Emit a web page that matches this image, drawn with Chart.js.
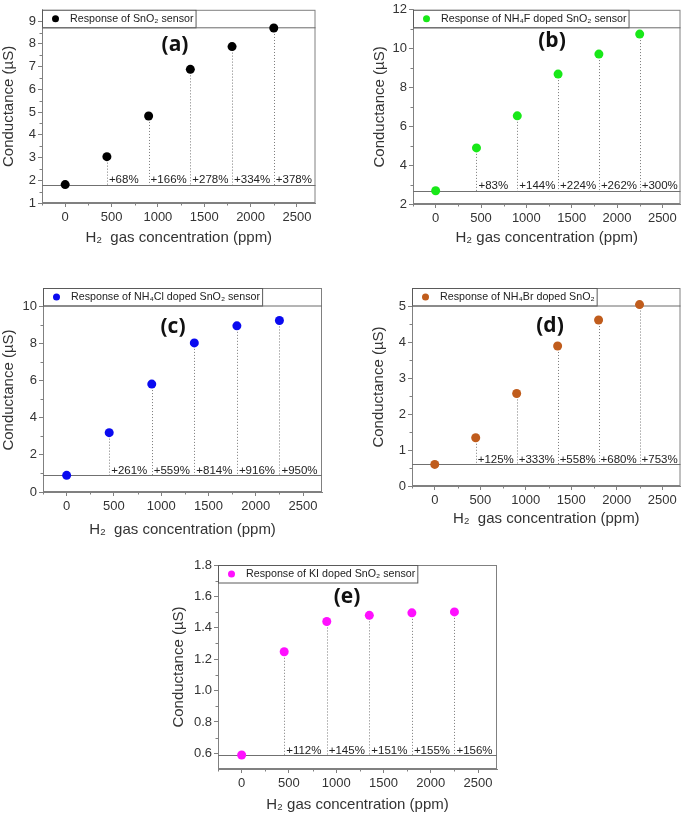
<!DOCTYPE html>
<html>
<head>
<meta charset="utf-8">
<script src="https://cdn.jsdelivr.net/npm/chart.js@4/dist/chart.umd.min.js"></script>
<style>
  body { margin: 0; background: #fff; width: 685px; height: 814px; position: relative; overflow: hidden; }
  .panel { position: absolute; }
</style>
</head>
<body>
<div class="panel" style="left:0;top:0;width:320px;height:250px"><canvas id="chartA"></canvas></div>
<div class="panel" style="left:340px;top:0;width:345px;height:250px"><canvas id="chartB"></canvas></div>
<div class="panel" style="left:0;top:260px;width:330px;height:280px"><canvas id="chartC"></canvas></div>
<div class="panel" style="left:340px;top:260px;width:345px;height:270px"><canvas id="chartD"></canvas></div>
<div class="panel" style="left:140px;top:550px;width:365px;height:264px"><canvas id="chartE"></canvas></div>
<script>
// H2 concentration steps (ppm)
const concentration = [0, 450, 900, 1350, 1800, 2250];
const xTicks = [0, 500, 1000, 1500, 2000, 2500];

// conductance (uS)
const sno2Values = [1.81, 3.04, 4.83, 6.88, 7.88, 8.70];
const nh4fValues = [2.68, 4.89, 6.54, 8.69, 9.72, 10.75];
const nh4clValues = [0.90, 3.20, 5.82, 8.04, 8.96, 9.25];
const nh4brValues = [0.60, 1.34, 2.57, 3.89, 4.61, 5.04];
const kiValues = [0.589, 1.247, 1.440, 1.479, 1.495, 1.501];

// response labels next to the drop lines
const sno2Gain = ["+68%", "+166%", "+278%", "+334%", "+378%"];
const nh4fGain = ["+83%", "+144%", "+224%", "+262%", "+300%"];
const nh4clGain = ["+261%", "+559%", "+814%", "+916%", "+950%"];
const nh4brGain = ["+125%", "+333%", "+558%", "+680%", "+753%"];
const kiGain = ["+112%", "+145%", "+151%", "+155%", "+156%"];

const yTicksA = [1, 2, 3, 4, 5, 6, 7, 8, 9];
const yTicksB = [2, 4, 6, 8, 10, 12];
const yTicksC = [0, 2, 4, 6, 8, 10];
const yTicksD = [0, 1, 2, 3, 4, 5];
const yTicksE = [0.6, 0.8, 1.0, 1.2, 1.4, 1.6, 1.8];

const FONT = "'Liberation Sans', Arial, sans-serif";
const AXIS = "#808080";
const TEXT = "#333";

const decor = {
    id: "decor",
    beforeDatasetsDraw(chart, args, o) {
        const { ctx, chartArea: a, scales: { x, y } } = chart;
        const base = Math.round(y.getPixelForValue(o.values[0])) + 0.5;
        ctx.save();
        // frame
        ctx.strokeStyle = AXIS;
        ctx.lineWidth = 1;
        ctx.strokeRect(a.left + 0.5, a.top + 0.5, a.width - 1, a.height - 1);
        // minor ticks
        ctx.beginPath();
        for (let v = -250; v <= 2700; v += 250) {
            if (v % 500 === 0) continue;
            const px = Math.round(x.getPixelForValue(v)) + 0.5;
            ctx.moveTo(px, a.bottom);
            ctx.lineTo(px, a.bottom + 2.5);
        }
        for (let i = 0; i < o.yTicks.length - 1; i++) {
            const py = Math.round(y.getPixelForValue((o.yTicks[i] + o.yTicks[i + 1]) / 2)) + 0.5;
            ctx.moveTo(a.left, py);
            ctx.lineTo(a.left - 2.5, py);
        }
        ctx.stroke();
        // baseline
        ctx.strokeStyle = "#707070";
        ctx.beginPath();
        ctx.moveTo(a.left, base);
        ctx.lineTo(a.right, base);
        ctx.stroke();
        // drop lines
        ctx.setLineDash([1, 2]);
        ctx.strokeStyle = "#7a7a7a";
        ctx.beginPath();
        for (let i = 1; i < o.values.length; i++) {
            const px = Math.round(x.getPixelForValue(concentration[i])) + 0.5;
            ctx.moveTo(px, y.getPixelForValue(o.values[i]));
            ctx.lineTo(px, base);
        }
        ctx.stroke();
        ctx.setLineDash([]);
        // legend box
        const lh = 17.5;
        ctx.font = "10.7px " + FONT;
        const w = ctx.measureText(o.legend).width + 30;
        ctx.fillStyle = "#fff";
        ctx.fillRect(a.left, a.top, w, lh);
        ctx.strokeStyle = "#5a5a5a";
        ctx.strokeRect(a.left + 0.5, a.top + 0.5, w, lh);
        if (o.fullLine) {
            ctx.strokeStyle = "#6a6a6a";
            ctx.beginPath();
            ctx.moveTo(a.left, a.top + lh + 0.5);
            ctx.lineTo(a.right, a.top + lh + 0.5);
            ctx.stroke();
        }
        ctx.fillStyle = o.color;
        ctx.beginPath();
        ctx.arc(a.left + 13.5, a.top + 9, 3.5, 0, Math.PI * 2);
        ctx.fill();
        ctx.fillStyle = "#222";
        ctx.textBaseline = "middle";
        ctx.fillText(o.legend, a.left + 28, a.top + 9.5);
        ctx.restore();
    },
    afterDatasetsDraw(chart, args, o) {
        const { ctx, chartArea: a, scales: { x, y } } = chart;
        const base = y.getPixelForValue(o.values[0]);
        ctx.save();
        ctx.fillStyle = "#222";
        ctx.font = "11.5px " + FONT;
        ctx.textBaseline = "alphabetic";
        o.gains.forEach((g, i) => {
            const px = x.getPixelForValue(concentration[i + 1]);
            ctx.fillText(g, px + 2, base - 1.5);
        });
        ctx.font = "bold 21px 'Open Sans', 'DejaVu Sans', sans-serif";
        ctx.fillStyle = "#111";
        ctx.textAlign = "center";
        ctx.textBaseline = "middle";
        ctx.fillText(o.tag, a.left + o.tagX, a.top + o.tagY);
        ctx.restore();
    },
};

const makePanel = (p) => {
    const ctx = document.getElementById(p.id);
    new Chart(ctx, {
        type: "scatter",
        data: {
            datasets: [
                {
                    data: p.values.map((v, i) => ({ x: concentration[i], y: v })),
                    backgroundColor: p.color,
                    borderColor: p.color,
                    borderWidth: 0,
                    pointRadius: 4.5,
                    pointHoverRadius: 4.5,
                },
            ],
        },
        options: {
            responsive: true,
            maintainAspectRatio: false,
            animation: false,
            layout: { padding: { top: p.padTop, right: p.padRight, left: 0, bottom: 0 } },
            plugins: {
                legend: { display: false },
                tooltip: { enabled: false },
                decor: {
                    values: p.values, gains: p.gains, yTicks: p.yTicks, legend: p.legend,
                    color: p.color, tag: p.tag, tagX: p.tagX, tagY: p.tagY, fullLine: p.fullLine,
                },
            },
            scales: {
                x: {
                    type: "linear",
                    min: -250,
                    max: 2700,
                    afterBuildTicks: (s) => { s.ticks = xTicks.map((v) => ({ value: v })); },
                    afterFit: (s) => { s.height = p.xH; },
                    grid: { drawOnChartArea: false, tickLength: 4, color: AXIS },
                    border: { color: AXIS },
                    ticks: { font: { size: 13, family: FONT }, color: TEXT, padding: 3, maxRotation: 0, callback: (v) => String(v) },
                    title: {
                        display: true, text: p.xTitle, color: TEXT,
                        font: { size: 15, family: FONT }, padding: { top: 0, bottom: p.xTitlePad },
                    },
                },
                y: {
                    type: "linear",
                    min: p.yMin,
                    max: p.yMax,
                    afterBuildTicks: (s) => { s.ticks = p.yTicks.map((v) => ({ value: v })); },
                    afterFit: (s) => { s.width = p.yW; },
                    grid: { drawOnChartArea: false, tickLength: 4, color: AXIS },
                    border: { color: AXIS },
                    ticks: { font: { size: 13, family: FONT }, color: TEXT, padding: 2, callback: p.fmt },
                    title: {
                        display: true, text: "Conductance (µS)", color: TEXT,
                        font: { size: 15, family: FONT }, padding: { top: p.yTitlePad, bottom: 0 },
                    },
                },
            },
        },
        plugins: [decor],
    });
};

const intFmt = (v) => String(v);

makePanel({
    id: "chartA", values: sno2Values, gains: sno2Gain, yTicks: yTicksA, yMin: 1, yMax: 9.5,
    color: "#000000", legend: "Response of SnO₂ sensor", tag: "(a)", tagX: 133, tagY: 35,
    xTitle: "H₂  gas concentration (ppm)", padTop: 3, padRight: 4, xH: 47, yW: 42,
    xTitlePad: 3, yTitlePad: 0, fullLine: true, fmt: intFmt,
});
makePanel({
    id: "chartB", values: nh4fValues, gains: nh4fGain, yTicks: yTicksB, yMin: 2, yMax: 12,
    color: "#18e818", legend: "Response of NH₄F doped SnO₂ sensor", tag: "(b)", tagX: 139, tagY: 31,
    xTitle: "H₂ gas concentration (ppm)", padTop: 7, padRight: 2, xH: 46, yW: 73,
    xTitlePad: 3, yTitlePad: 31, fullLine: true, fmt: intFmt,
});
makePanel({
    id: "chartC", values: nh4clValues, gains: nh4clGain, yTicks: yTicksC, yMin: 0, yMax: 11,
    color: "#0a0af0", legend: "Response of NH₄Cl doped SnO₂ sensor", tag: "(c)", tagX: 130, tagY: 39,
    xTitle: "H₂  gas concentration (ppm)", padTop: 28, padRight: 8, xH: 48, yW: 43,
    xTitlePad: 1, yTitlePad: 0, fullLine: true, fmt: intFmt,
});
makePanel({
    id: "chartD", values: nh4brValues, gains: nh4brGain, yTicks: yTicksD, yMin: 0, yMax: 5.5,
    color: "#c05c1c", legend: "Response of NH₄Br doped SnO₂", tag: "(d)", tagX: 138, tagY: 38,
    xTitle: "H₂  gas concentration (ppm)", padTop: 28, padRight: 2, xH: 44, yW: 72,
    xTitlePad: 2, yTitlePad: 30, fullLine: true, fmt: intFmt,
});
makePanel({
    id: "chartE", values: kiValues, gains: kiGain, yTicks: yTicksE, yMin: 0.5, yMax: 1.8,
    color: "#ff10ff", legend: "Response of KI doped SnO₂ sensor", tag: "(e)", tagX: 129, tagY: 32,
    xTitle: "H₂ gas concentration (ppm)", padTop: 15, padRight: 8, xH: 45, yW: 78,
    xTitlePad: 0, yTitlePad: 30, fullLine: false, fmt: (v) => v.toFixed(1),
});
</script>
</body>
</html>
